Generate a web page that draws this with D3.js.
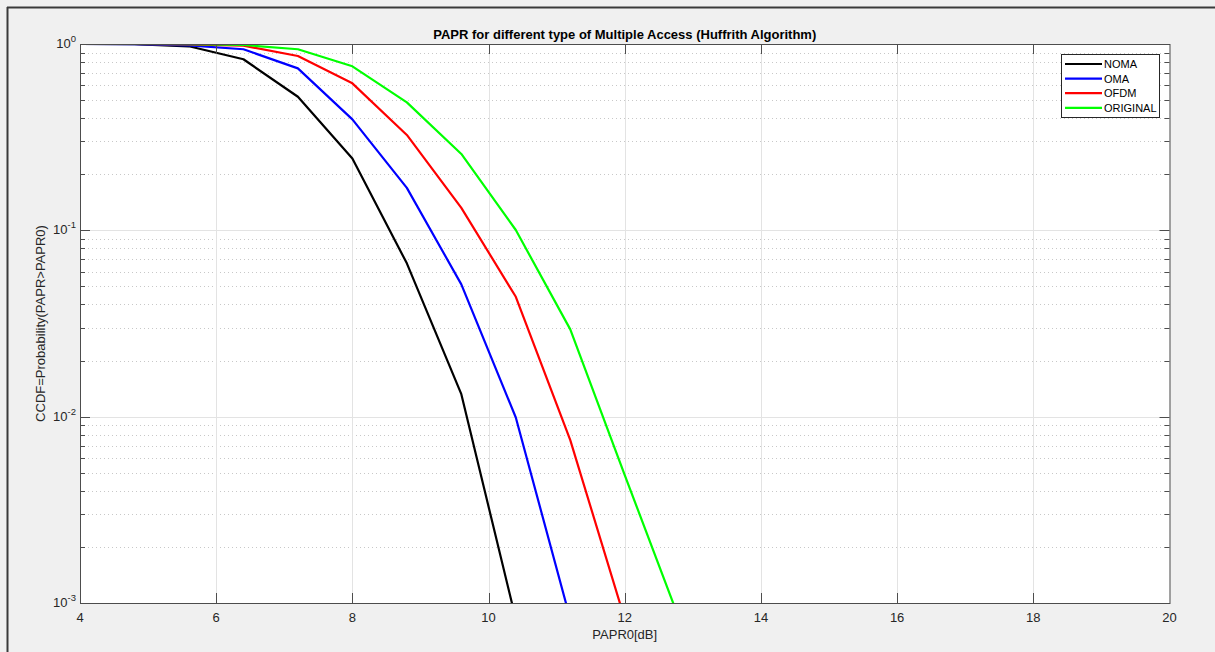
<!DOCTYPE html>
<html>
<head>
<meta charset="utf-8">
<script src="https://cdn.jsdelivr.net/npm/d3@7"></script>
<style>
  html, body { margin: 0; padding: 0; background: #f0f0f0; }
  svg { display: block; font-family: "Liberation Sans", Arial, sans-serif; }
</style>
</head>
<body>
<div id="chart"></div>
<script>
// PAPR0 values (dB) at which the CCDF was sampled
const papr0 = [4, 4.8, 5.6, 6.4, 7.2, 8.0, 8.8, 9.6, 10.4, 11.2, 12.0, 12.8];

// CCDF values
const noma     = [1, 0.998, 0.972, 0.828, 0.521, 0.243, 0.0665, 0.0132, 0.00082];
const oma      = [1, 0.999, 0.982, 0.937, 0.740, 0.394, 0.169, 0.0513, 0.0099, 0.00082];
const ofdm     = [1, 1, 0.995, 0.980, 0.862, 0.615, 0.325, 0.132, 0.044, 0.00749, 0.00082];
const original = [1, 1, 0.998, 0.988, 0.937, 0.759, 0.486, 0.257, 0.1004, 0.0294, 0.00486, 0.00082];

const seriesNames  = ["NOMA", "OMA", "OFDM", "ORIGINAL"];
const seriesColors = ["#000000", "#0000ff", "#ff0000", "#00ff00"];
const xTicks = [4, 6, 8, 10, 12, 14, 16, 18, 20];
const yDecades = [-3, -2, -1, 0];

const W = 1215, H = 652;
const margin = {top: 44, right: 45.5, bottom: 49, left: 80};
const pw = W - margin.left - margin.right, ph = H - margin.top - margin.bottom;

const svg = d3.select("#chart").append("svg")
    .attr("width", W).attr("height", H);

// window frame
svg.append("rect").attr("width", W).attr("height", H).attr("fill", "#f0f0f0");
svg.append("line").attr("x1", 7).attr("x2", W).attr("y1", 7.5).attr("y2", 7.5)
    .attr("stroke", "#3a3a3a").attr("stroke-width", 2);
svg.append("line").attr("x1", 7.5).attr("x2", 7.5).attr("y1", 7).attr("y2", H)
    .attr("stroke", "#3a3a3a").attr("stroke-width", 2);

const g = svg.append("g").attr("transform", `translate(${margin.left},${margin.top})`);

const x = d3.scaleLinear().domain([4, 20]).range([0, pw]);
const y = d3.scaleLog().domain([1e-3, 1]).range([ph, 0]);

g.append("rect").attr("width", pw).attr("height", ph).attr("fill", "#fff");

// minor y grid (dotted)
const minor = [];
yDecades.slice(0, -1).forEach(e => {
    for (let k = 2; k <= 9; k++) minor.push(k * Math.pow(10, e));
});
g.selectAll(".ming").data(minor).enter().append("line")
    .attr("x1", 0).attr("x2", pw)
    .attr("y1", d => Math.round(y(d)) + 0.5).attr("y2", d => Math.round(y(d)) + 0.5)
    .attr("stroke", "#c8c8c8").attr("stroke-width", 1).attr("stroke-dasharray", "1,3");

// major grid
g.selectAll(".gx").data(xTicks.slice(1, -1)).enter().append("line")
    .attr("x1", d => Math.round(x(d)) + 0.5).attr("x2", d => Math.round(x(d)) + 0.5)
    .attr("y1", 0).attr("y2", ph)
    .attr("stroke", "#e3e3e3").attr("stroke-width", 1);
g.selectAll(".gy").data(yDecades.slice(1, -1)).enter().append("line")
    .attr("x1", 0).attr("x2", pw)
    .attr("y1", d => Math.round(y(Math.pow(10, d))) + 0.5)
    .attr("y2", d => Math.round(y(Math.pow(10, d))) + 0.5)
    .attr("stroke", "#e3e3e3").attr("stroke-width", 1);

// curves
g.append("clipPath").attr("id", "clip").append("rect")
    .attr("width", pw).attr("height", ph);
const line = d3.line().x((d, i) => x(papr0[i])).y(d => y(d));
const curves = [noma, oma, ofdm, original];
g.append("g").attr("clip-path", "url(#clip)")
    .selectAll("path").data(curves).enter().append("path")
    .attr("d", d => line(d))
    .attr("fill", "none")
    .attr("stroke", (d, i) => seriesColors[i])
    .attr("stroke-width", 2.2)
    .attr("stroke-linejoin", "round");

// axes box and ticks
const axisCol = "#4d4d4d";
g.append("rect").attr("x", 0.5).attr("y", 0.5).attr("width", pw).attr("height", ph)
    .attr("fill", "none").attr("stroke", axisCol).attr("stroke-width", 1);

const tick = (x1, y1, x2, y2) => g.append("line")
    .attr("x1", x1).attr("y1", y1).attr("x2", x2).attr("y2", y2)
    .attr("stroke", axisCol).attr("stroke-width", 1);

xTicks.slice(1, -1).forEach(t => {
    const px = Math.round(x(t)) + 0.5;
    tick(px, ph, px, ph - 10);
    tick(px, 0, px, 10);
});
yDecades.forEach(e => {
    const py = Math.round(y(Math.pow(10, e))) + 0.5;
    tick(0, py, 10, py);
    tick(pw, py, pw - 10, py);
});
minor.forEach(v => {
    const py = Math.round(y(v)) + 0.5;
    tick(0, py, 5, py);
    tick(pw, py, pw - 5, py);
});

// tick labels
const tickCol = "#262626";
g.selectAll(".xl").data(xTicks).enter().append("text")
    .attr("x", d => x(d)).attr("y", ph + 19)
    .attr("text-anchor", "middle").attr("font-size", 13).attr("fill", tickCol)
    .text(d => d);

yDecades.forEach(e => {
    const t = g.append("text")
        .attr("y", y(Math.pow(10, e)) + 4)
        .attr("font-size", 13).attr("fill", tickCol);
    t.append("tspan").text("10");
    t.append("tspan").attr("dy", -6).attr("font-size", 9.5).text(e);
    // right-align the whole label a few px left of the axis
    const w = t.node().getComputedTextLength();
    t.attr("x", -4 - w);
});

// labels and title
svg.append("text")
    .attr("x", margin.left + pw / 2).attr("y", 639)
    .attr("text-anchor", "middle").attr("font-size", 13).attr("fill", tickCol)
    .text("PAPR0[dB]");
svg.append("text")
    .attr("transform", `translate(45,${margin.top + ph / 2}) rotate(-90)`)
    .attr("text-anchor", "middle").attr("font-size", 13).attr("fill", tickCol)
    .text("CCDF=Probability(PAPR>PAPR0)");
svg.append("text")
    .attr("x", margin.left + pw / 2).attr("y", 39)
    .attr("text-anchor", "middle").attr("font-size", 13).attr("font-weight", "bold")
    .attr("fill", "#000")
    .text("PAPR for different type of Multiple Access (Huffrith Algorithm)");

// legend
const lg = svg.append("g").attr("transform", "translate(1061,54)");
lg.append("rect").attr("x", 0.5).attr("y", 0.5).attr("width", 98).attr("height", 63)
    .attr("fill", "#fff").attr("stroke", "#262626").attr("stroke-width", 1);
seriesNames.forEach((name, i) => {
    const yy = 10 + i * 14.6;
    lg.append("line").attr("x1", 4).attr("x2", 41).attr("y1", yy).attr("y2", yy)
        .attr("stroke", seriesColors[i]).attr("stroke-width", 2.2);
    lg.append("text").attr("x", 43).attr("y", yy + 4)
        .attr("font-size", 11).attr("fill", "#000").text(name);
});
</script>
</body>
</html>
